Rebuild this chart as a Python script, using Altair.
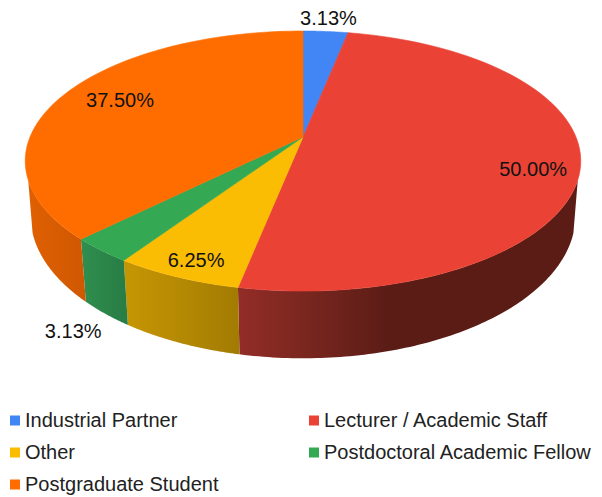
import numpy as np
import pandas as pd
import altair as alt

categories = ["Industrial Partner", "Lecturer / Academic Staff", "Other",
              "Postdoctoral Academic Fellow", "Postgraduate Student"]
shares = [3.125, 50.0, 6.25, 3.125, 37.5]
colors = ["#4285f4", "#ea4335", "#fbbc04", "#34a853", "#ff6d01"]
label_texts = ["3.13%", "50.00%", "6.25%", "3.13%", "37.50%"]
legend_order = ["Industrial Partner", "Other", "Postgraduate Student",
                "Lecturer / Academic Staff", "Postdoctoral Academic Fellow"]
legend_colors = ["#4285f4", "#fbbc04", "#ff6d01", "#ea4335", "#34a853"]

# Layout of the perspective disc (page pixels)
W, H = 586, 489
OFF = 8
CX = 303
TOP = dict(c=137.0, A=273.0, B=125.6, a=0.1847)
BOT = dict(c=190.0, A=268.0, B=138.0, a=0.18)
TAN_TOP, TAN_BOT = 71.2, 72.8   # silhouette angles from the front, degrees
label_radius = [1.153, 0.841, 0.893, 1.369, 0.774]
label_nudge = [0.0, 5.5, -0.7, -10.8, 1.2]
side_stops = {
    "Lecturer / Academic Staff": [(0, "#932c27"), (0.18, "#7c2720"), (0.45, "#5a1c15"), (1, "#5a1c15")],
    "Other": [(0, "#c69603"), (1, "#a27b02")],
    "Postdoctoral Academic Fellow": [(0, "#2f8f4f"), (1, "#287c44")],
    "Postgraduate Student": [(0, "#e06002"), (1, "#cf5801")],
}


def project(theta, r, p):
    t = np.radians(theta)
    u, v = r * np.sin(t), r * np.cos(t)
    s = 1 / (1 + p["a"] * v)
    return CX + p["A"] * u * s - OFF, p["c"] - p["B"] * v * s - OFF


edges = np.concatenate([[0], np.cumsum(shares)]) * 3.6

top_rows = []
for name, a0, a1 in zip(categories, edges[:-1], edges[1:]):
    th = np.linspace(a0, a1, 80)
    x, y = project(th, 1.0, TOP)
    xs = [CX - OFF] + list(x) + [CX - OFF]
    ys = [TOP["c"] - OFF] + list(y) + [TOP["c"] - OFF]
    for i, (a, b) in enumerate(zip(xs, ys)):
        top_rows.append(dict(name=name, i=i, x=a, y=b))
top_df = pd.DataFrame(top_rows)

xs_scale = alt.Scale(domain=[0, W], range=[0, W], nice=False, zero=False)
ys_scale = alt.Scale(domain=[0, H], range=[0, H], nice=False, zero=False)
X = alt.X("x:Q", scale=xs_scale, axis=None)
Y = alt.Y("y:Q", scale=ys_scale, axis=None)
color_scale = alt.Scale(domain=legend_order, range=legend_colors)

layers = []
for name, a0, a1 in zip(categories, edges[:-1], edges[1:]):
    if name not in side_stops:
        continue
    t0 = max(a0, 180 - TAN_TOP) if a0 < 180 else a0
    b0 = max(a0, 180 - TAN_BOT) if a0 < 180 else a0
    t1 = min(a1, 180 + TAN_TOP)
    b1 = min(a1, 180 + TAN_BOT)
    tx, ty = project(np.linspace(t0, t1, 100), 1.0, TOP)
    bx, by = project(np.linspace(b1, b0, 100), 1.0, BOT)
    df = pd.DataFrame(dict(x=np.r_[tx, bx], y=np.r_[ty, by]))
    df["i"] = np.arange(len(df))
    grad = alt.Gradient(gradient="linear", x1=0, x2=1, y1=0, y2=0,
                        stops=[alt.GradientStop(offset=o, color=c) for o, c in side_stops[name]])
    layers.append(alt.Chart(df).mark_line(fill=grad, strokeWidth=0, interpolate="linear-closed")
                  .encode(x=X, y=Y, order="i:Q"))

top_layer = alt.Chart(top_df).mark_line(strokeWidth=0.6, interpolate="linear-closed").encode(
    x=X, y=Y, order="i:Q",
    stroke=alt.Stroke("name:N", scale=color_scale, legend=None),
    fill=alt.Fill("name:N", scale=color_scale, legend=alt.Legend(
        title=None, orient="none", legendX=-3, legendY=402, columns=2,
        symbolType="square", symbolSize=100, symbolStrokeWidth=0,
        labelFont="Liberation Sans", labelFontSize=20, labelColor="#222222",
        labelLimit=400, labelOffset=0, columnPadding=85, rowPadding=11,
        symbolOpacity=1, clipHeight=21)),
)
layers.append(top_layer)

mids = (edges[:-1] + edges[1:]) / 2
lx, ly = [], []
for m, r, n in zip(mids, label_radius, label_nudge):
    a, b = project(m + n, r, TOP)
    lx.append(float(a))
    ly.append(float(b))
lab_df = pd.DataFrame(dict(x=lx, y=ly, text=label_texts))
layers.append(alt.Chart(lab_df).mark_text(font="Liberation Sans", fontSize=20, color="#111111",
                                          align="center", baseline="middle", dy=1)
              .encode(x=X, y=Y, text="text:N"))

chart = alt.layer(*layers).properties(
    width=W, height=H, padding=0, autosize=alt.AutoSizeParams(type="none"),
).resolve_scale(x="shared", y="shared").configure_view(stroke=None)

chart.save("out.html", embed_options={"renderer": "svg", "actions": False})
